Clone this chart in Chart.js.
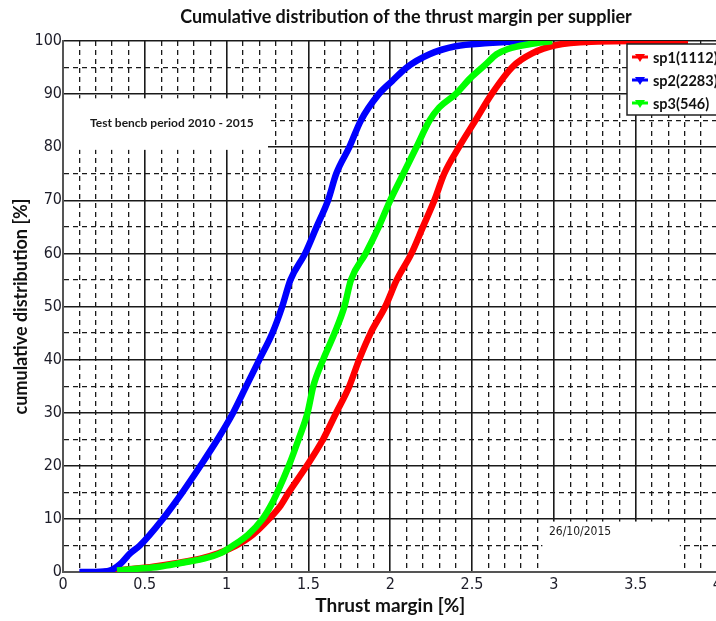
<!DOCTYPE html>
<html>
<head>
<meta charset="utf-8">
<script src="https://cdn.jsdelivr.net/npm/chart.js@4/dist/chart.umd.min.js"></script>
<style>
  html, body { margin: 0; padding: 0; background: #fff; overflow: hidden; }
  #wrap { position: relative; width: 725px; height: 621px; }
</style>
</head>
<body>
<div id="wrap"><canvas id="cdfChart" width="725" height="621"></canvas></div>
<script>
// thrust margin [%] / cumulative share [%]
const sp1X = [0.25, 0.40, 0.55, 0.70, 0.84, 0.95, 1.06, 1.16, 1.26, 1.33, 1.38, 1.49, 1.59, 1.67, 1.75, 1.81, 1.88, 1.97, 2.04, 2.13, 2.20, 2.27, 2.33, 2.42, 2.52, 2.62, 2.75, 2.87, 3.01, 3.27, 3.50, 3.82];
const sp1Y = [0, 0.5, 1, 1.7, 2.5, 3.5, 5, 7, 10, 12.5, 15, 20, 25, 30, 35, 40, 45, 50, 55, 60, 65, 70, 75, 80, 85, 90, 95.2, 97.7, 99.2, 99.9, 100, 100];

const sp2X = [0.10, 0.20, 0.29, 0.35, 0.41, 0.47, 0.61, 0.73, 0.84, 0.945, 1.04, 1.12, 1.20, 1.28, 1.34, 1.39, 1.48, 1.55, 1.62, 1.67, 1.75, 1.82, 1.93, 2.01, 2.10, 2.24, 2.40, 2.60, 2.75, 2.89];
const sp2Y = [0, 0, 0.3, 1.5, 3.5, 5, 10, 15, 20, 25, 30, 35, 40, 45, 50, 55, 60, 65, 70, 75, 80, 85, 90, 92.4, 95, 97.5, 99, 99.6, 99.9, 100];

const sp3X = [0.33, 0.45, 0.59, 0.72, 0.86, 0.96, 1.04, 1.13, 1.22, 1.27, 1.31, 1.38, 1.44, 1.495, 1.53, 1.59, 1.66, 1.72, 1.76, 1.85, 1.93, 2.00, 2.08, 2.16, 2.24, 2.30, 2.40, 2.49, 2.58, 2.65, 2.72, 2.85, 2.99];
const sp3Y = [0.3, 0.6, 1, 1.7, 2.5, 3.5, 5, 7, 10, 12.5, 15, 20, 25, 30, 35, 40, 45, 50, 55, 60, 65, 70, 75, 80, 85, 87.5, 90, 93, 95.5, 97.5, 98.5, 99.4, 100];

const seriesLabels = ["sp1(1112)", "sp2(2283)", "sp3(546)"];
const seriesColors = ["#ff0000", "#0000ff", "#00ff00"];
const xTickLabels = ["0", "0.5", "1", "1.5", "2", "2.5", "3", "3.5", "4"];
const yTickLabels = ["0", "10", "20", "30", "40", "50", "60", "70", "80", "90", "100"];

const chartTitle = "Cumulative distribution of the thrust margin per supplier";
const periodNote = "Test bencb period 2010 - 2015";
const dateNote = "26/10/2015";

const tickFont = { family: "'Liberation Sans Narrow', 'DejaVu Sans Condensed', 'Liberation Sans'", size: 16 };
const textFont = "Lato, 'Open Sans', 'Liberation Sans', sans-serif";

function toPoints(xs, ys) {
    return xs.map((x, i) => ({ x: x, y: ys[i] }));
}

function isMajorX(v) { return Math.round(v * 10) % 5 === 0; }
function isMajorY(v) { return Math.round(v) % 10 === 0; }

// white note boxes, title and legend drawn over the grid
const notesPlugin = {
    id: "notes",
    beforeDatasetsDraw(chart) {
        const { ctx, scales: { x, y } } = chart;
        ctx.save();
        ctx.fillStyle = "#fff";
        // period note box (covers grid between 80 and 90)
        ctx.fillRect(x.left + 1, y.getPixelForValue(89.2), x.getPixelForValue(1.253) - x.left - 1, y.getPixelForValue(79.5) - y.getPixelForValue(89.2));
        // date box
        ctx.fillRect(x.getPixelForValue(2.93), y.getPixelForValue(9.5), x.getPixelForValue(3.77) - x.getPixelForValue(2.93), y.bottom - y.getPixelForValue(9.5) - 1);
        ctx.fillStyle = "#1a1a1a";
        ctx.textBaseline = "middle";
        ctx.font = "bold 12px " + textFont;
        ctx.fillText(periodNote, x.left + 27, y.getPixelForValue(84.5));
        ctx.font = "12px 'Liberation Sans Narrow', 'DejaVu Sans Condensed', sans-serif";
        ctx.fillText(dateNote, x.getPixelForValue(2.97), y.getPixelForValue(7.5));
        ctx.restore();
    },
    afterDraw(chart) {
        const { ctx } = chart;
        ctx.save();
        // title
        ctx.fillStyle = "#111";
        ctx.font = "bold 18px " + textFont;
        ctx.textAlign = "center";
        ctx.textBaseline = "middle";
        ctx.fillText(chartTitle, 406, 17);
        // legend
        const bx = 627, by = 44, bw = 100, bh = 71;
        ctx.fillStyle = "#fff";
        ctx.fillRect(bx, by, bw, bh);
        ctx.strokeStyle = "#222";
        ctx.lineWidth = 1.5;
        ctx.strokeRect(bx, by, bw, bh);
        ctx.textAlign = "left";
        ctx.font = "bold 14.5px " + textFont;
        chart.data.datasets.forEach((ds, i) => {
            const ly = by + 13 + i * 23;
            ctx.strokeStyle = ds.borderColor;
            ctx.fillStyle = ds.borderColor;
            ctx.lineWidth = 3;
            ctx.beginPath();
            ctx.moveTo(bx + 5, ly);
            ctx.lineTo(bx + 21, ly);
            ctx.stroke();
            ctx.beginPath();
            ctx.moveTo(bx + 8, ly - 3);
            ctx.lineTo(bx + 18, ly - 3);
            ctx.lineTo(bx + 13, ly + 5);
            ctx.closePath();
            ctx.fill();
            ctx.fillStyle = "#111";
            ctx.fillText(ds.label, bx + 26, ly + 1);
        });
        ctx.restore();
    }
};

const ctx = document.getElementById("cdfChart").getContext("2d");

const lineStyle = {
    borderWidth: 6.5,
    pointRadius: 0,
    fill: false,
    cubicInterpolationMode: "monotone"
};

new Chart(ctx, {
    type: "line",
    data: {
        datasets: [
            Object.assign({ label: seriesLabels[0], data: toPoints(sp1X, sp1Y), borderColor: seriesColors[0], backgroundColor: seriesColors[0], order: 2 }, lineStyle),
            Object.assign({ label: seriesLabels[1], data: toPoints(sp2X, sp2Y), borderColor: seriesColors[1], backgroundColor: seriesColors[1], order: 1 }, lineStyle),
            Object.assign({ label: seriesLabels[2], data: toPoints(sp3X, sp3Y), borderColor: seriesColors[2], backgroundColor: seriesColors[2], order: 0 }, lineStyle)
        ]
    },
    options: {
        responsive: false,
        animation: false,
        layout: { padding: { top: 41, left: 0, right: 6, bottom: 0 } },
        plugins: {
            legend: { display: false },
            tooltip: { enabled: false }
        },
        scales: {
            x: {
                type: "linear",
                min: 0,
                max: 4,
                afterFit(scale) { scale.height = 49; },
                ticks: {
                    stepSize: 0.1,
                    autoSkip: false,
                    maxRotation: 0,
                    padding: 3,
                    color: "#1c1c28",
                    font: tickFont,
                    callback: function (v) {
                        return isMajorX(v) ? xTickLabels[Math.round(v * 2)] : "";
                    }
                },
                grid: {
                    drawTicks: false,
                    color: "#1a1a1a",
                    lineWidth: c => (c.tick && isMajorX(c.tick.value) ? 1.6 : 1.3)
                },
                border: {
                    display: true,
                    color: "#555",
                    width: 2,
                    dash: c => (c.tick && !isMajorX(c.tick.value) ? [5, 4] : [])
                },
                title: {
                    display: true,
                    text: "Thrust margin [%]",
                    color: "#111",
                    font: { family: textFont, size: 19, weight: "bold" },
                    padding: { top: 0, bottom: 4 }
                }
            },
            y: {
                type: "linear",
                min: 0,
                max: 100,
                afterFit(scale) { scale.width = 63; },
                ticks: {
                    stepSize: 5,
                    autoSkip: false,
                    padding: 1,
                    color: "#1c1c28",
                    font: tickFont,
                    callback: function (v) {
                        return isMajorY(v) ? yTickLabels[Math.round(v / 10)] : "";
                    }
                },
                grid: {
                    drawTicks: false,
                    color: "#1a1a1a",
                    lineWidth: c => (c.tick && isMajorY(c.tick.value) ? 1.6 : 1.3)
                },
                border: {
                    display: true,
                    color: "#555",
                    width: 2,
                    dash: c => (c.tick && !isMajorY(c.tick.value) ? [5, 4] : [])
                },
                title: {
                    display: true,
                    text: "cumulative distribution [%]",
                    color: "#111",
                    font: { family: textFont, size: 18, weight: "bold" },
                    padding: { top: 10, bottom: 0 }
                }
            }
        }
    },
    plugins: [notesPlugin]
});
</script>
</body>
</html>
